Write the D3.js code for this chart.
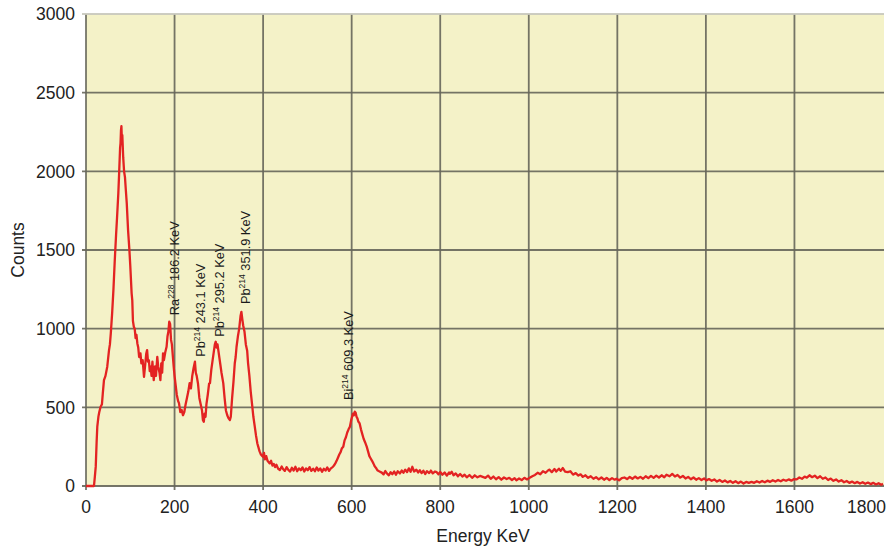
<!DOCTYPE html>
<html>
<head>
<meta charset="utf-8">
<script src="https://cdn.jsdelivr.net/npm/d3@7"></script>
<style>
  html, body { margin: 0; padding: 0; background: #ffffff; }
  svg { display: block; font-family: "Liberation Sans", Arial, sans-serif; }
</style>
</head>
<body>
<svg id="chart" width="894" height="547"></svg>
<script>
// ---------------- data ----------------
const energy = [0,10,18,20,22,24,25.5,28,30,33,36,38,40.6,44,48,52,54,56,59,62,65,68,70,73,75,77,78,79,80,81,82,84,86,88,90,92,95,98,100,103,104.5,106,108,110,112,114,116,118,120,123,125,128,131,134,136,138,140,142,144,146,148,150,153,156,158,161,163,166,168,170,172,174,176,179,182,184,186,188,190,192,194,195,198,200,202,205,208,210,213,216,219,222,225,228,231,234,237,240,243,246,248,250,253,256,259,262,264,266,268,270,272,275,278,280,283,286,289,291,293,295,297,300,303,306,310,313,316,319,322,325,327,330,333,336,338,340,343,346,349,351,353,355,358,361,364,366,369,372,375,378,381,384,387,389,392,395,398,400,402,404,407,410,413,415,418,421,424,427,430,434,438,442,445,449,453,457,461,465,469,473,477,481,485,489,493,497,501,505,509,513,517,521,525,529,533,537,541,545,549,553,557,560,563,566,569,572,575,578,581,584,587,590,593,596,599,601,603,605,607,609,611,613,615,618,621,624,627,630,634,637,640,643,646,649,652,655,658,661,664,668,672,676,680,684,688,692,696,700,704,709,713,717,721,725,729,733,737,741,746,750,754,758,762,766,770,775,779,783,788,792,796,800,805,810,815,820,822,826,830,835,840,845,850,855,860,866,872,878,884,890,896,902,908,914,920,926,932,938,944,950,956,962,968,972,978,984,990,996,1002,1008,1014,1020,1026,1032,1038,1044,1047,1052,1058,1062,1068,1072,1077,1082,1088,1094,1100,1106,1112,1117,1122,1128,1134,1140,1146,1152,1158,1164,1170,1176,1182,1188,1194,1198,1204,1210,1216,1222,1228,1234,1240,1246,1252,1258,1264,1270,1276,1282,1288,1294,1300,1306,1311,1318,1324,1330,1336,1342,1348,1354,1360,1366,1372,1378,1384,1390,1396,1401,1407,1413,1419,1425,1431,1437,1443,1449,1455,1461,1467,1473,1479,1485,1491,1497,1503,1509,1515,1521,1527,1533,1539,1545,1551,1557,1563,1569,1575,1581,1587,1593,1599,1605,1611,1617,1623,1628,1634,1640,1646,1652,1658,1664,1670,1676,1682,1688,1694,1700,1706,1712,1718,1724,1730,1736,1742,1748,1754,1760,1766,1772,1778,1784,1790,1796,1800];
const counts = [0,0,0,60,123,280,377,440,470,504,520,590,673,700,758,864,900,970,1097,1250,1436,1600,1700,1860,2000,2150,2180,2260,2287,2200,2230,2090,2000,1963,1880,1800,1626,1500,1400,1226,1182,1050,1012,1000,940,960,906,880,820,843,780,800,694,780,840,864,790,800,730,758,700,790,673,760,700,821,760,720,673,780,720,843,800,850,885,950,980,1044,1030,930,900,864,760,700,652,580,540,527,470,483,450,470,520,560,600,654,620,700,750,790,720,700,650,560,520,480,420,408,460,440,520,580,650,654,740,800,860,900,917,880,900,840,780,720,654,560,480,450,430,419,440,560,660,780,820,885,950,1000,1080,1107,1060,1020,980,900,860,781,700,600,520,440,380,320,270,250,220,200,190,186,210,170,190,160,150,144,160,130,140,120,135,110,102,124,108,96,120,102,92,116,98,122,94,112,100,118,92,112,100,120,96,110,94,118,98,112,90,110,98,118,96,112,120,130,144,160,180,200,215,240,250,290,310,340,360,377,420,440,460,450,472,465,440,430,410,398,360,330,300,280,250,220,190,175,160,144,125,115,100,95,91,85,74,95,78,68,88,75,92,72,94,80,98,84,104,88,112,90,122,92,104,86,100,82,97,76,94,82,98,80,92,88,74,90,72,86,66,86,78,90,68,80,62,76,60,72,55,70,52,68,55,64,58,52,66,46,60,43,56,40,54,44,52,38,50,36,48,38,52,42,52,62,70,84,74,94,84,100,104,88,108,92,110,96,114,92,88,94,72,82,66,74,58,68,52,62,46,56,42,54,40,52,38,50,40,46,36,50,54,44,57,46,60,48,58,46,62,50,64,52,66,54,68,56,72,62,77,60,70,53,64,48,58,43,54,40,50,38,48,36,44,33,42,28,38,26,35,23,32,20,30,18,28,16,26,20,26,20,30,22,32,24,34,26,37,28,38,30,40,33,42,34,44,42,54,46,60,53,68,56,66,50,62,46,54,38,47,33,42,28,37,24,32,20,28,18,26,16,24,14,22,12,20,10,18,8,14,10];

const xTicks = [0,200,400,600,800,1000,1200,1400,1600,1800];
const yTicks = [0,500,1000,1500,2000,2500,3000];

// peak annotations: element, mass number, label text, anchor (energy, counts)
const peakElement = ["Ra","Pb","Pb","Pb","Bi"];
const peakMass    = ["228","214","214","214","214"];
const peakText    = [" 186.2 KeV"," 243.1 KeV"," 295.2 KeV"," 351.9 KeV"," 609.3 KeV"];
const peakAnchorE = [209, 268, 311, 370, 603];
const peakAnchorC = [1086, 821, 948, 1156, 546];

// ---------------- layout ----------------
const W = 894, H = 547;
const margin = {left: 86, top: 14, right: 10, bottom: 61};
const iw = W - margin.left - margin.right;
const ih = H - margin.top - margin.bottom;

const svg = d3.select("#chart");
const g = svg.append("g").attr("transform", `translate(${margin.left},${margin.top})`);

const x = d3.scaleLinear().domain([0,1800]).range([0, iw - 1]);
const y = d3.scaleLinear().domain([0,3000]).range([ih, 0]);

// background
g.append("rect").attr("x",0).attr("y",0).attr("width",iw).attr("height",ih)
  .attr("fill","#f4f2c8");

const gridColor = "#66665a";

// vertical grid lines + ticks
g.append("g").selectAll("line").data(xTicks.filter(d => d < 1800)).join("line")
  .attr("x1", d => x(d)).attr("x2", d => x(d))
  .attr("y1", 0).attr("y2", ih + 4)
  .attr("stroke", gridColor).attr("stroke-width", 1.8).attr("stroke-opacity", 0.9);

// horizontal grid lines + ticks
g.append("g").selectAll("line").data(yTicks).join("line")
  .attr("x1", -4).attr("x2", iw)
  .attr("y1", d => y(d)).attr("y2", d => y(d))
  .attr("stroke", d => d === 3000 ? "#c8c8bc" : gridColor)
  .attr("stroke-width", 1.8).attr("stroke-opacity", 0.9);

// x tick labels (last one kept inside the picture)
g.append("g").selectAll("text").data(xTicks).join("text")
  .attr("x", d => d === 1800 ? x(d) + 3 : x(d)).attr("y", ih + 27)
  .attr("text-anchor", d => d === 1800 ? "end" : "middle")
  .attr("font-size", 17.5).attr("fill", "#222")
  .text(d => d);

// y tick labels
g.append("g").selectAll("text").data(yTicks).join("text")
  .attr("x", -11).attr("y", d => y(d)).attr("dy", "0.36em")
  .attr("text-anchor", "end")
  .attr("font-size", 17.5).attr("fill", "#222")
  .text(d => d);

// axis titles
svg.append("text")
  .attr("x", margin.left + iw/2 - 2).attr("y", 541.5)
  .attr("text-anchor","middle").attr("font-size", 17.5).attr("fill","#222")
  .text("Energy KeV");
svg.append("text")
  .attr("transform", `translate(24,${margin.top + ih/2}) rotate(-90)`)
  .attr("text-anchor","middle").attr("font-size", 17.5).attr("fill","#222")
  .text("Counts");

// spectrum line
const data = energy.map((e,i) => ({e, c: counts[i]}));
const line = d3.line().x(d => x(d.e)).y(d => y(d.c));
g.append("path").datum(data)
  .attr("d", line)
  .attr("fill","none")
  .attr("stroke","#e32322")
  .attr("stroke-width", 2.3)
  .attr("stroke-linejoin","round");

// peak labels
peakElement.forEach((el, i) => {
  const t = g.append("text")
    .attr("transform", `translate(${x(peakAnchorE[i])},${y(peakAnchorC[i])}) rotate(-90)`)
    .attr("text-anchor","start")
    .attr("font-size", 12.8).attr("fill","#1a1a1a");
  t.append("tspan").text(el);
  t.append("tspan").attr("font-size", 8.5).attr("dy", -5).text(peakMass[i]);
  t.append("tspan").attr("dy", 5).text(peakText[i]);
});
</script>
</body>
</html>
